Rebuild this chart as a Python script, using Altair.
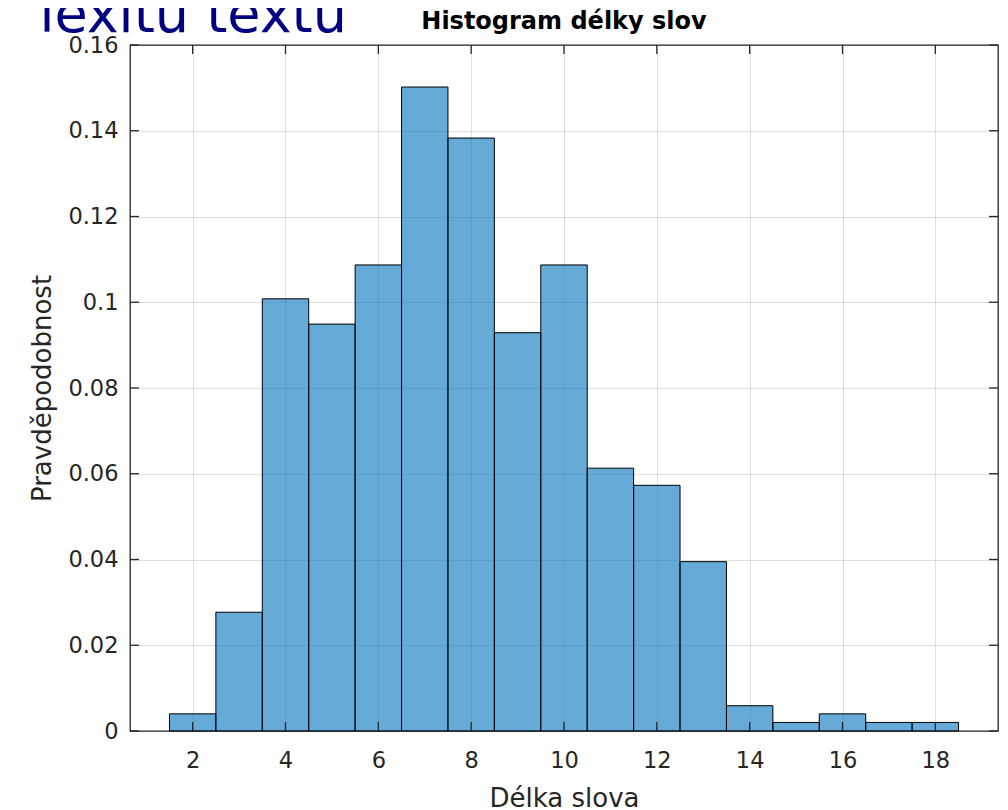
import altair as alt
import pandas as pd

# ---- data ----
bin_lo = [1.5, 2.5, 3.5, 4.5, 5.5, 6.5, 7.5, 8.5, 9.5, 10.5, 11.5, 12.5, 13.5, 14.5, 15.5, 16.5, 17.5]
bin_hi = [2.5, 3.5, 4.5, 5.5, 6.5, 7.5, 8.5, 9.5, 10.5, 11.5, 12.5, 13.5, 14.5, 15.5, 16.5, 17.5, 18.5]
probability = [0.0040, 0.0277, 0.1008, 0.0949, 0.1087, 0.1502, 0.1383, 0.0929, 0.1087,
               0.0613, 0.0573, 0.0395, 0.0059, 0.0020, 0.0040, 0.0020, 0.0020]
x_ticks = [2, 4, 6, 8, 10, 12, 14, 16, 18]
y_ticks = [0, 0.02, 0.04, 0.06, 0.08, 0.1, 0.12, 0.14, 0.16]
x_domain = [0.65, 19.35]
y_domain = [0, 0.16]
title_text = "Histogram délky slov"
x_title = "Délka slova"
y_title = "Pravděpodobnost"
big_text = "lexitu textu"

W, H = 868, 686
AX = "#262626"
FONT = "DejaVu Sans"

df = pd.DataFrame({"lo": bin_lo, "hi": bin_hi, "p": probability})
xt = pd.DataFrame({"v": x_ticks})
yt = pd.DataFrame({"v": y_ticks})

xs = alt.Scale(domain=x_domain, nice=False, zero=False)
ys = alt.Scale(domain=y_domain, nice=False, zero=True)

x_axis = alt.Axis(values=x_ticks, format="d", ticks=False, tickSize=0, domain=False,
                  grid=True, gridColor=AX, gridOpacity=0.15, gridWidth=1,
                  labelFont=FONT, labelFontSize=22.5, labelColor=AX,
                  labelBaseline="alphabetic", labelPadding=36, labelFlush=False,
                  labelOverlap=False,
                  title=x_title, titleFont=FONT, titleFontSize=26, titleFontWeight="normal",
                  titleColor=AX, titleX=434, titleY=75, titleBaseline="alphabetic",
                  titleAlign="center")
y_axis = alt.Axis(values=y_ticks, format="~g", ticks=False, tickSize=0, domain=False,
                  grid=True, gridColor=AX, gridOpacity=0.15, gridWidth=1,
                  labelFont=FONT, labelFontSize=22.5, labelColor=AX, labelPadding=12,
                  labelOverlap=False, labelFlush=False,
                  title=y_title, titleFont=FONT, titleFontSize=26, titleFontWeight="normal",
                  titleColor=AX, titleX=-80, titleY=H / 2, titleAngle=270,
                  titleBaseline="alphabetic", titleAlign="center")

bars = alt.Chart(df).mark_rect(fill="#0072BD", fillOpacity=0.6, stroke="#000000",
                               strokeWidth=1).encode(
    x=alt.X("lo:Q", scale=xs, axis=x_axis),
    x2="hi:Q",
    y=alt.Y("p:Q", scale=ys, axis=y_axis),
    y2=alt.datum(0),
)

TL = 9
tick_style = dict(color=AX, strokeWidth=1.3)
bottom_ticks = alt.Chart(xt).mark_rule(**tick_style).encode(
    x=alt.X("v:Q", scale=xs), y=alt.value(H), y2=alt.value(H - TL))
top_ticks = alt.Chart(xt).mark_rule(**tick_style).encode(
    x=alt.X("v:Q", scale=xs), y=alt.value(0), y2=alt.value(TL))
left_ticks = alt.Chart(yt).mark_rule(**tick_style).encode(
    y=alt.Y("v:Q", scale=ys), x=alt.value(0), x2=alt.value(TL))
right_ticks = alt.Chart(yt).mark_rule(**tick_style).encode(
    y=alt.Y("v:Q", scale=ys), x=alt.value(W), x2=alt.value(W - TL))

big = alt.Chart(pd.DataFrame({"t": [big_text]})).mark_text(
    font=FONT, fontSize=54, color="#000080", align="right", baseline="alphabetic"
).encode(x=alt.value(217), y=alt.value(-13), text="t:N")

title = alt.Chart(pd.DataFrame({"t": [title_text]})).mark_text(
    font=FONT, fontSize=24, fontWeight="bold", color="#000000", align="center",
    baseline="alphabetic"
).encode(x=alt.value(W / 2), y=alt.value(-16), text="t:N")

chart = alt.layer(bars, bottom_ticks, top_ticks, left_ticks, right_ticks, big, title).properties(
    width=W, height=H,
    autosize=alt.AutoSizeParams(type="none"),
    padding={"left": 122, "top": 37, "right": 2, "bottom": 79},
).configure_view(stroke=AX, strokeWidth=1.3)

chart.save("out.html", embed_options={"renderer": "svg", "actions": False})
